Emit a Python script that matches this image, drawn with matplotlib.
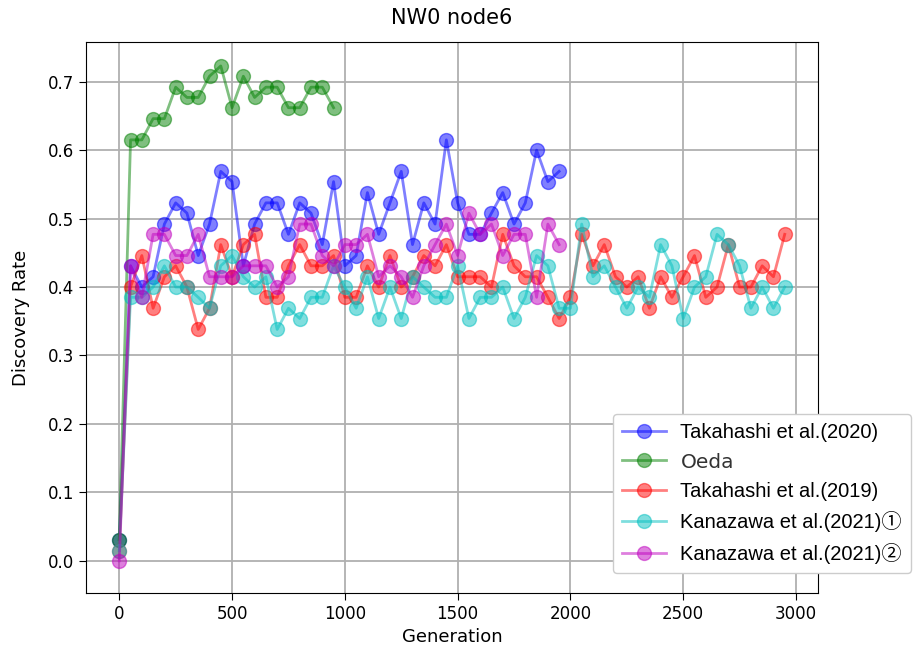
import numpy as np
import matplotlib
matplotlib.use("Agg")
from matplotlib import pyplot as plt

# discovery rate per generation (every 50 generations)
gen_long = list(range(0, 3000, 50))
gen_short = list(range(0, 2000, 50))
gen_oeda = list(range(0, 1000, 50))

takahashi2020 = [0.031, 0.431, 0.400, 0.415, 0.492, 0.523, 0.508, 0.446, 0.492, 0.569,
                 0.554, 0.431, 0.492, 0.523, 0.523, 0.477, 0.523, 0.508, 0.462, 0.554,
                 0.431, 0.446, 0.538, 0.477, 0.523, 0.569, 0.462, 0.523, 0.492, 0.615,
                 0.523, 0.477, 0.477, 0.508, 0.538, 0.492, 0.523, 0.600, 0.554, 0.569]

oeda = [0.031, 0.615, 0.615, 0.646, 0.646, 0.692, 0.677, 0.677, 0.708, 0.723,
        0.662, 0.708, 0.677, 0.692, 0.692, 0.662, 0.662, 0.692, 0.692, 0.662]

takahashi2019 = [0.015, 0.400, 0.446, 0.369, 0.415, 0.431, 0.400, 0.338, 0.369, 0.462,
                 0.415, 0.462, 0.477, 0.385, 0.385, 0.431, 0.462, 0.431, 0.431, 0.446,
                 0.385, 0.385, 0.431, 0.400, 0.446, 0.400, 0.415, 0.446, 0.431, 0.462,
                 0.415, 0.415, 0.415, 0.400, 0.477, 0.431, 0.415, 0.415, 0.385, 0.354,
                 0.385, 0.477, 0.431, 0.462, 0.415, 0.400, 0.415, 0.369, 0.415, 0.385,
                 0.415, 0.446, 0.385, 0.400, 0.462, 0.400, 0.400, 0.431, 0.415, 0.477]

kanazawa1 = [0.015, 0.385, 0.385, 0.400, 0.431, 0.400, 0.400, 0.385, 0.369, 0.431,
             0.446, 0.415, 0.400, 0.415, 0.338, 0.369, 0.354, 0.385, 0.385, 0.431,
             0.400, 0.369, 0.415, 0.354, 0.400, 0.354, 0.415, 0.400, 0.385, 0.385,
             0.431, 0.354, 0.385, 0.385, 0.400, 0.354, 0.385, 0.446, 0.431, 0.369,
             0.369, 0.492, 0.415, 0.431, 0.400, 0.369, 0.400, 0.385, 0.462, 0.431,
             0.354, 0.400, 0.415, 0.477, 0.462, 0.431, 0.369, 0.400, 0.369, 0.400]

kanazawa2 = [0.000, 0.431, 0.385, 0.477, 0.477, 0.446, 0.446, 0.477, 0.415, 0.415,
             0.415, 0.431, 0.431, 0.431, 0.400, 0.415, 0.492, 0.492, 0.446, 0.431,
             0.462, 0.462, 0.477, 0.415, 0.431, 0.415, 0.385, 0.431, 0.462, 0.492,
             0.446, 0.508, 0.477, 0.492, 0.446, 0.477, 0.477, 0.385, 0.492, 0.462]

labels = ["Takahashi et al.(2020)", "Oeda", "Takahashi et al.(2019)",
          "Kanazawa et al.(2021)①", "Kanazawa et al.(2021)②"]

fig = plt.figure(figsize=(9.13, 6.5), dpi=100)
ax = fig.add_axes([86/913, 57/650, 732/913, 551/650])

kw = dict(marker="o", markersize=10, linewidth=2, alpha=0.5)
ax.plot(gen_short, takahashi2020, color="b", label=labels[0], **kw)
ax.plot(gen_oeda, oeda, color="g", label=labels[1], **kw)
ax.plot(gen_long, takahashi2019, color="r", label=labels[2], **kw)
ax.plot(gen_long, kanazawa1, color="c", label=labels[3], **kw)
ax.plot(gen_short, kanazawa2, color="m", label=labels[4], **kw)

ax.set_xlim(-147.5, 3097.5)
ax.set_ylim(-0.047, 0.758)
ax.set_xticks(range(0, 3001, 500))
ax.set_yticks(np.arange(0, 0.71, 0.1))
ax.tick_params(labelsize=12, length=5)
ax.grid(True, color="#b0b0b0", linewidth=1.3)
ax.set_xlabel("Generation", fontsize=13)
ax.set_ylabel("Discovery Rate", fontsize=13, labelpad=13)
ax.set_title("NW0 node6", fontsize=15, pad=13)

leg = fig.legend(loc="upper left", bbox_to_anchor=(613/913, 1 - 414/650),
                 prop={"family": ["Liberation Sans", "Noto Sans CJK JP"], "size": 14.5},
                 framealpha=1, handlelength=2.2, labelspacing=0.52, borderpad=0.45,
                 handletextpad=0.7, borderaxespad=0, markerscale=1.0)
leg.get_texts()[1].set_family(["DejaVu Sans"])
leg.get_texts()[1].set_color("#333333")

fig.savefig("out.png", dpi=100)
